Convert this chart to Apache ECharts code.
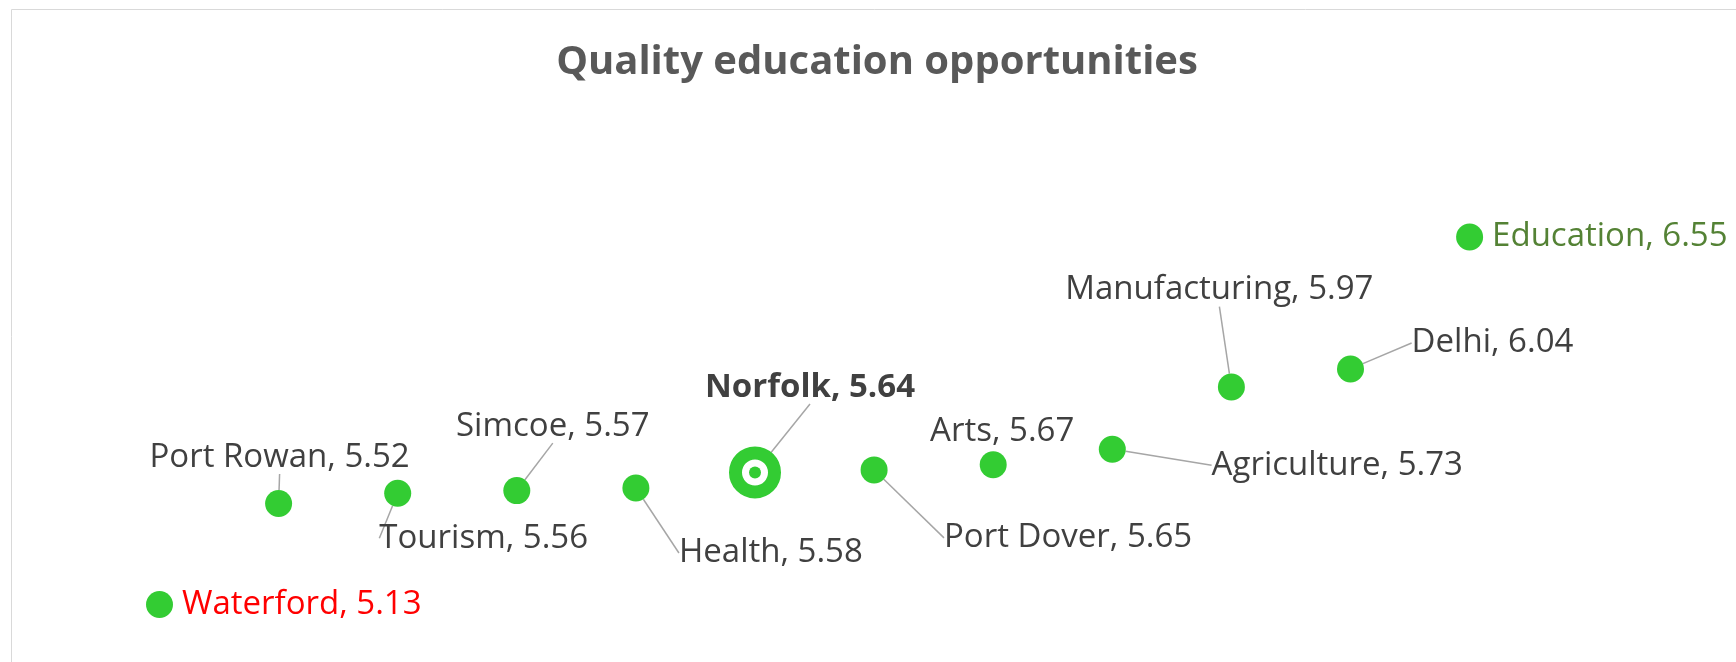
<!DOCTYPE html>
<html>
<head>
<meta charset="utf-8">
<script src="https://cdn.jsdelivr.net/npm/echarts@6/dist/echarts.min.js"></script>
<style>
  html, body { margin: 0; padding: 0; background: #fff; }
  #chart { width: 1736px; height: 662px; }
</style>
</head>
<body>
<div id="chart"></div>
<script>
// places, sorted by score
const places = ["Waterford", "Port Rowan", "Tourism", "Simcoe", "Health", "Norfolk",
  "Port Dover", "Arts", "Agriculture", "Manufacturing", "Delhi", "Education"];
const scores = [5.13, 5.52, 5.56, 5.57, 5.58, 5.64, 5.65, 5.67, 5.73, 5.97, 6.04, 6.55];

// label offset from the point (label centre minus point centre), px
const labelOffsets = [
  [0, 0], [1, -46], [86, 45], [36, -64], [135, 65], [55, -85],
  [194, 68], [9, -33], [225, 16], [-12, -97], [142, -26], [0, 0]
];

const highlight = "Norfolk";
const green = "#33cc33";
const textColor = "#404040";
const fontFamily = "'Open Sans', sans-serif";

const chart = echarts.init(document.getElementById("chart"));

const data = places.map((name, i) => {
  const item = { name: name, value: [i + 1, scores[i]] };
  if (name === "Waterford") {
    item.label = { position: "right", distance: 9, color: "#ff0000" };
    item.labelLine = { show: false };
  } else if (name === "Education") {
    item.label = { position: "right", distance: 9, color: "#548235" };
    item.labelLine = { show: false };
  } else if (name === "Arts") {
    item.labelLine = { show: false };
  }
  if (name === highlight) {
    item.symbolSize = 39;
    item.itemStyle = { color: "#fff", borderColor: green, borderWidth: 13 };
    item.label = { fontWeight: "bold" };
  }
  return item;
});

chart.setOption({
  animation: false,
  title: {
    text: "Quality education opportunities",
    left: 872,
    top: 38,
    textAlign: "center",
    textStyle: {
      fontFamily: fontFamily,
      fontSize: 40,
      fontWeight: "bold",
      color: "#595959",
    },
  },
  graphic: [
    {
      type: "rect",
      shape: { x: 11.5, y: 9.5, width: 2000, height: 1000 },
      style: { fill: "none", stroke: "#d9d9d9", lineWidth: 1 },
      silent: true,
    },
  ],
  grid: {
    left: 40.4,
    right: 147.3,
    top: 120.5,
    bottom: 23.9,
  },
  xAxis: {
    type: "value",
    min: 0,
    max: 13,
    show: false,
  },
  yAxis: {
    type: "value",
    min: 5,
    max: 7,
    show: false,
  },
  series: [
    {
      type: "scatter",
      data: data,
      symbolSize: 27,
      itemStyle: { color: green, opacity: 1 },
      label: {
        show: true,
        position: "inside",
        formatter: (p) => p.name + ", " + p.value[1].toFixed(2),
        fontFamily: fontFamily,
        fontSize: 33,
        color: textColor,
      },
      labelLine: {
        show: true,
        lineStyle: { color: "#a6a6a6", width: 1.5 },
      },
      labelLayout: (params) => {
        const o = labelOffsets[params.dataIndex];
        return { dx: o[0], dy: o[1] };
      },
    },
    {
      // centre dot of the highlighted place
      type: "scatter",
      silent: true,
      symbolSize: 12,
      itemStyle: { color: green, opacity: 1 },
      data: places
        .map((name, i) => ({ name: name, value: [i + 1, scores[i]] }))
        .filter((d) => d.name === highlight),
    },
  ],
});
</script>
</body>
</html>
